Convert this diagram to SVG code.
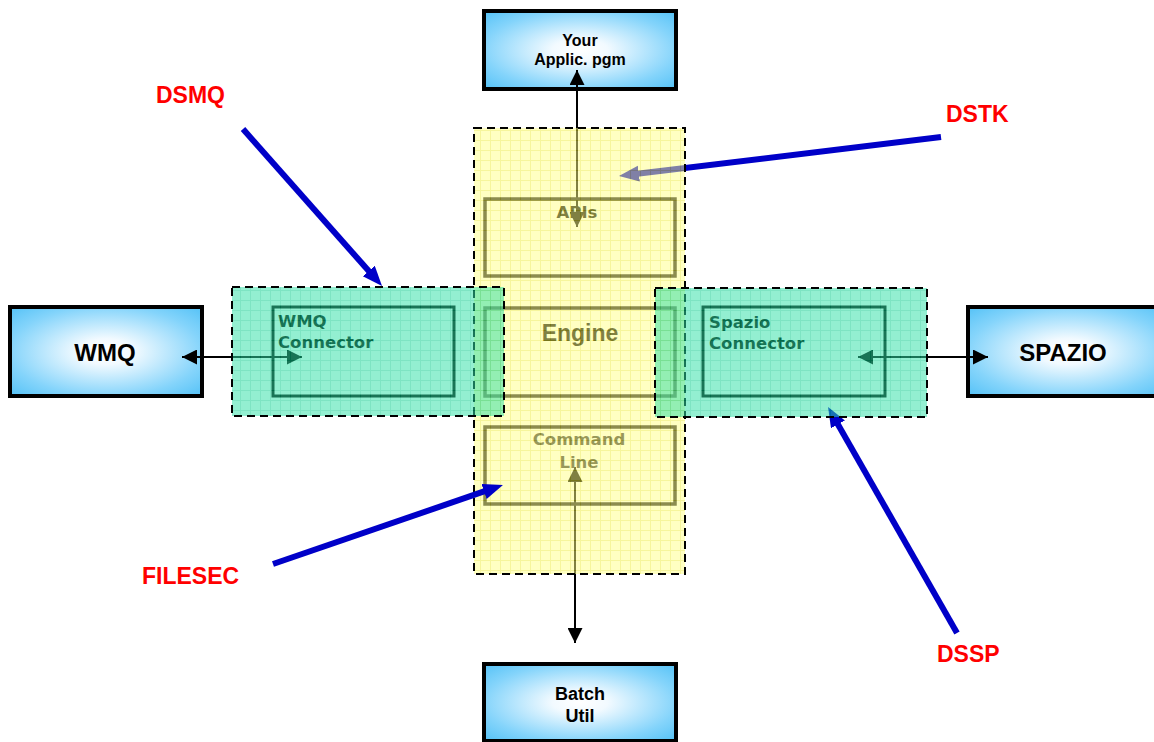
<svg xmlns="http://www.w3.org/2000/svg" width="1154" height="742" viewBox="0 0 1154 742">
<style>
.ext{stroke:#000;stroke-width:4;fill:url(#blueG)}
.extT{font-family:"Liberation Sans",Arial,sans-serif;font-weight:bold;fill:#000;text-anchor:middle}
.inY{fill:none;stroke:#1a1a1a;stroke-width:3.5}
.inG{fill:none;stroke:#000;stroke-width:3}
.inT{font-family:"DejaVu Sans",Verdana,sans-serif;font-weight:bold;font-size:16.5px;fill:#000}
.lab{font-family:"Liberation Sans",Arial,sans-serif;font-weight:bold;font-size:23px;fill:#ff0000}
.blk{stroke:#000;stroke-width:2;fill:none;marker-start:url(#ah);marker-end:url(#ah)}
.blu{stroke:#0000c8;stroke-width:6;fill:none;marker-end:url(#bh)}
.dash{fill:none;stroke:#000;stroke-width:2;stroke-dasharray:8 5}
</style>
<defs>
<radialGradient id="blueG" cx="0.5" cy="0.5" r="0.72">
<stop offset="0" stop-color="#ffffff"/>
<stop offset="0.2" stop-color="#f2faff"/>
<stop offset="0.7" stop-color="#84d4fb"/>
<stop offset="1" stop-color="#50c0f6"/>
</radialGradient>
<pattern id="gridY" width="10" height="10" patternUnits="userSpaceOnUse">
<rect width="10" height="10" fill="#ffff84"/>
<path d="M0 0.5H10M0.5 0V10" stroke="#ecea3a" stroke-width="1"/>
</pattern>
<pattern id="gridG" width="10" height="10" patternUnits="userSpaceOnUse">
<rect width="10" height="10" fill="#30e0a6"/>
<path d="M0 0.5H10M0.5 0V10" stroke="#06cc8c" stroke-width="1"/>
</pattern>
<marker id="ah" markerWidth="16" markerHeight="15" refX="15" refY="7.5" orient="auto-start-reverse" markerUnits="userSpaceOnUse">
<path d="M0,0 L15,7.5 L0,15 z" fill="#000"/>
</marker>
<marker id="bh" markerWidth="22" markerHeight="18" refX="10" refY="8" orient="auto" markerUnits="userSpaceOnUse">
<path d="M0,0 L20,8 L0,16 z" fill="#0000c8"/>
</marker>
</defs>
<rect width="1154" height="742" fill="#ffffff"/>

<g id="node-your-applic">
<rect class="ext" x="484" y="11" width="192" height="78"/>
<text class="extT" font-size="16" x="580" y="46">Your</text>
<text class="extT" font-size="16" x="580" y="65">Applic. pgm</text>
</g>
<g id="node-batch-util">
<rect class="ext" x="484" y="664" width="192" height="77"/>
<text class="extT" font-size="18" x="580" y="700">Batch</text>
<text class="extT" font-size="18" x="580" y="722">Util</text>
</g>
<g id="node-wmq">
<rect class="ext" x="10" y="307" width="192" height="89"/>
<text class="extT" font-size="24" x="105" y="361">WMQ</text>
</g>
<g id="node-spazio">
<rect class="ext" x="968" y="307" width="200" height="89"/>
<text class="extT" font-size="24" x="1063" y="361">SPAZIO</text>
</g>

<g id="connectors">
<line class="blk" x1="577" y1="70" x2="577" y2="227"/>
<line class="blk" x1="575" y1="467" x2="575" y2="643"/>
<line class="blk" x1="182" y1="357" x2="302" y2="357"/>
<line class="blk" x1="858" y1="357" x2="988" y2="357"/>
<line class="blu" x1="243" y1="129" x2="375.4" y2="278.5"/>
<line class="blu" x1="941" y1="137" x2="628.9" y2="174.8"/>
<line class="blu" x1="957" y1="633" x2="833" y2="415.7"/>
</g>

<g id="node-core">
<g id="node-apis">
<rect class="inY" x="485" y="199" width="190" height="77"/>
<text class="inT" font-size="17" x="577" y="218" text-anchor="middle">APIs</text>
</g>
<g id="node-engine">
<rect class="inY" x="485" y="308" width="190" height="88"/>
<text class="extT" font-size="23" x="580" y="341">Engine</text>
</g>
<g id="node-command-line">
<rect class="inY" x="485" y="427" width="190" height="77"/>
<text class="inT" x="579" y="445" text-anchor="middle" style="fill:#303030">Command</text>
<text class="inT" x="579" y="468" text-anchor="middle" style="fill:#303030">Line</text>
</g>
<rect x="474" y="128" width="211" height="446" fill="url(#gridY)" opacity="0.5"/>
<rect class="dash" x="474" y="128" width="211" height="446"/>
</g>

<g id="node-wmq-connector">
<rect class="inG" x="273" y="307" width="181" height="89"/>
<text class="inT" x="278" y="327">WMQ</text>
<text class="inT" x="278" y="348">Connector</text>
<rect x="232" y="287" width="272" height="129" fill="url(#gridG)" opacity="0.52"/>
<rect class="dash" x="232" y="287" width="272" height="129"/>
</g>
<g id="node-spazio-connector">
<rect class="inG" x="703" y="307" width="182" height="89"/>
<text class="inT" x="709" y="328">Spazio</text>
<text class="inT" x="709" y="349">Connector</text>
<rect x="655" y="288" width="272" height="129" fill="url(#gridG)" opacity="0.52"/>
<rect class="dash" x="655" y="288" width="272" height="129"/>
</g>

<g id="connectors-top">
<line class="blu" x1="273" y1="564" x2="493.5" y2="488.2"/>
</g>

<g id="labels">
<text class="lab" x="156" y="103">DSMQ</text>
<text class="lab" x="946" y="122">DSTK</text>
<text class="lab" x="142" y="584">FILESEC</text>
<text class="lab" x="937" y="662">DSSP</text>
</g>
</svg>
